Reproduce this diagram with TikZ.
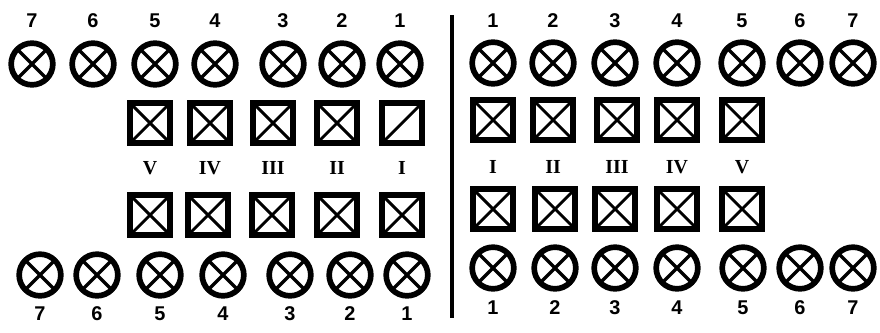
\documentclass[tikz,border=0pt]{standalone}
\usepackage{fontspec}
\setmainfont{Liberation Serif}
\setsansfont{Liberation Sans}
\usetikzlibrary{positioning}
\tikzset{
  lamp/.style={
    circle,
    draw,
    line width=1.7mm,
    minimum size=12.5mm,
    inner sep=0pt,
    path picture={\draw[line width=1.0mm]
      (path picture bounding box.north west) -- (path picture bounding box.south east)
      (path picture bounding box.south west) -- (path picture bounding box.north east);}
  },
  lampbox/.style={
    rectangle,
    draw,
    line width=1.6mm,
    minimum size=12.0mm,
    inner sep=0pt,
    path picture={\draw[line width=0.85mm]
      (path picture bounding box.north west) -- (path picture bounding box.south east)
      (path picture bounding box.south west) -- (path picture bounding box.north east);}
  },
  halfbox/.style={
    rectangle,
    draw,
    line width=1.6mm,
    minimum size=12.0mm,
    inner sep=0pt,
    path picture={\draw[line width=0.85mm]
      (path picture bounding box.south west) -- (path picture bounding box.north east);}
  },
  numlabel/.style={font=\sffamily\bfseries\fontsize{17}{19}\selectfont,inner sep=0pt,anchor=base},
  romlabel/.style={font=\bfseries\fontsize{17}{19}\selectfont,inner sep=0pt,anchor=base},
  divider/.style={line width=1.3mm}
}

\begin{document}
\begin{tikzpicture}[x=0.3mm,y=-0.3mm]
\useasboundingbox (0,0) rectangle (880,332);
% left half, top row
\foreach \n/\x in {7/32,6/93,5/155,4/215,3/283,2/342,1/400}{
  \node[lamp] (tl\n) at (\x,64) {};
  \node[numlabel] (tln\n) at (\x,27) {\n};
}
% right half, top row
\foreach \n/\x in {1/493,2/553,3/615,4/677,5/742,6/800,7/853}{
  \node[lamp] (tr\n) at (\x,63) {};
  \node[numlabel] (trn\n) at (\x,27) {\n};
}
% left boxes
\foreach \n/\x in {V/150,IV/210,III/273,II/337}{
  \node[lampbox] (ul\n) at (\x,123) {};
}
\node[halfbox] (ulI) at (402,123) {};
\foreach \n/\x/\xx in {V/150/150,IV/210/208,III/273/272,II/337/337,I/402/402}{
  \node[romlabel] (rl\n) at (\x,174) {\n};
  \node[lampbox] (ll\n) at (\xx,215) {};
}
% right boxes
\foreach \n/\x/\xx in {I/493/493,II/553/555,III/617/615,IV/677/677,V/742/742}{
  \node[lampbox] (ur\n) at (\x,120) {};
  \node[romlabel] (rr\n) at (\x,173) {\n};
  \node[lampbox] (lr\n) at (\xx,209) {};
}
% bottom rows
\foreach \n/\x in {7/40,6/97,5/160,4/223,3/290,2/350,1/407}{
  \node[lamp] (bl\n) at (\x,275) {};
  \node[numlabel] (bln\n) at (\x,320) {\n};
}
\foreach \n/\x in {1/493,2/555,3/615,4/677,5/743,6/800,7/853}{
  \node[lamp] (br\n) at (\x,268) {};
  \node[numlabel] (brn\n) at (\x,314) {\n};
}
% dividing line
\coordinate (divtop) at (452,15);
\coordinate (divbot) at (452,318);
\draw[divider] (divtop) -- (divbot);
\end{tikzpicture}
\end{document}
